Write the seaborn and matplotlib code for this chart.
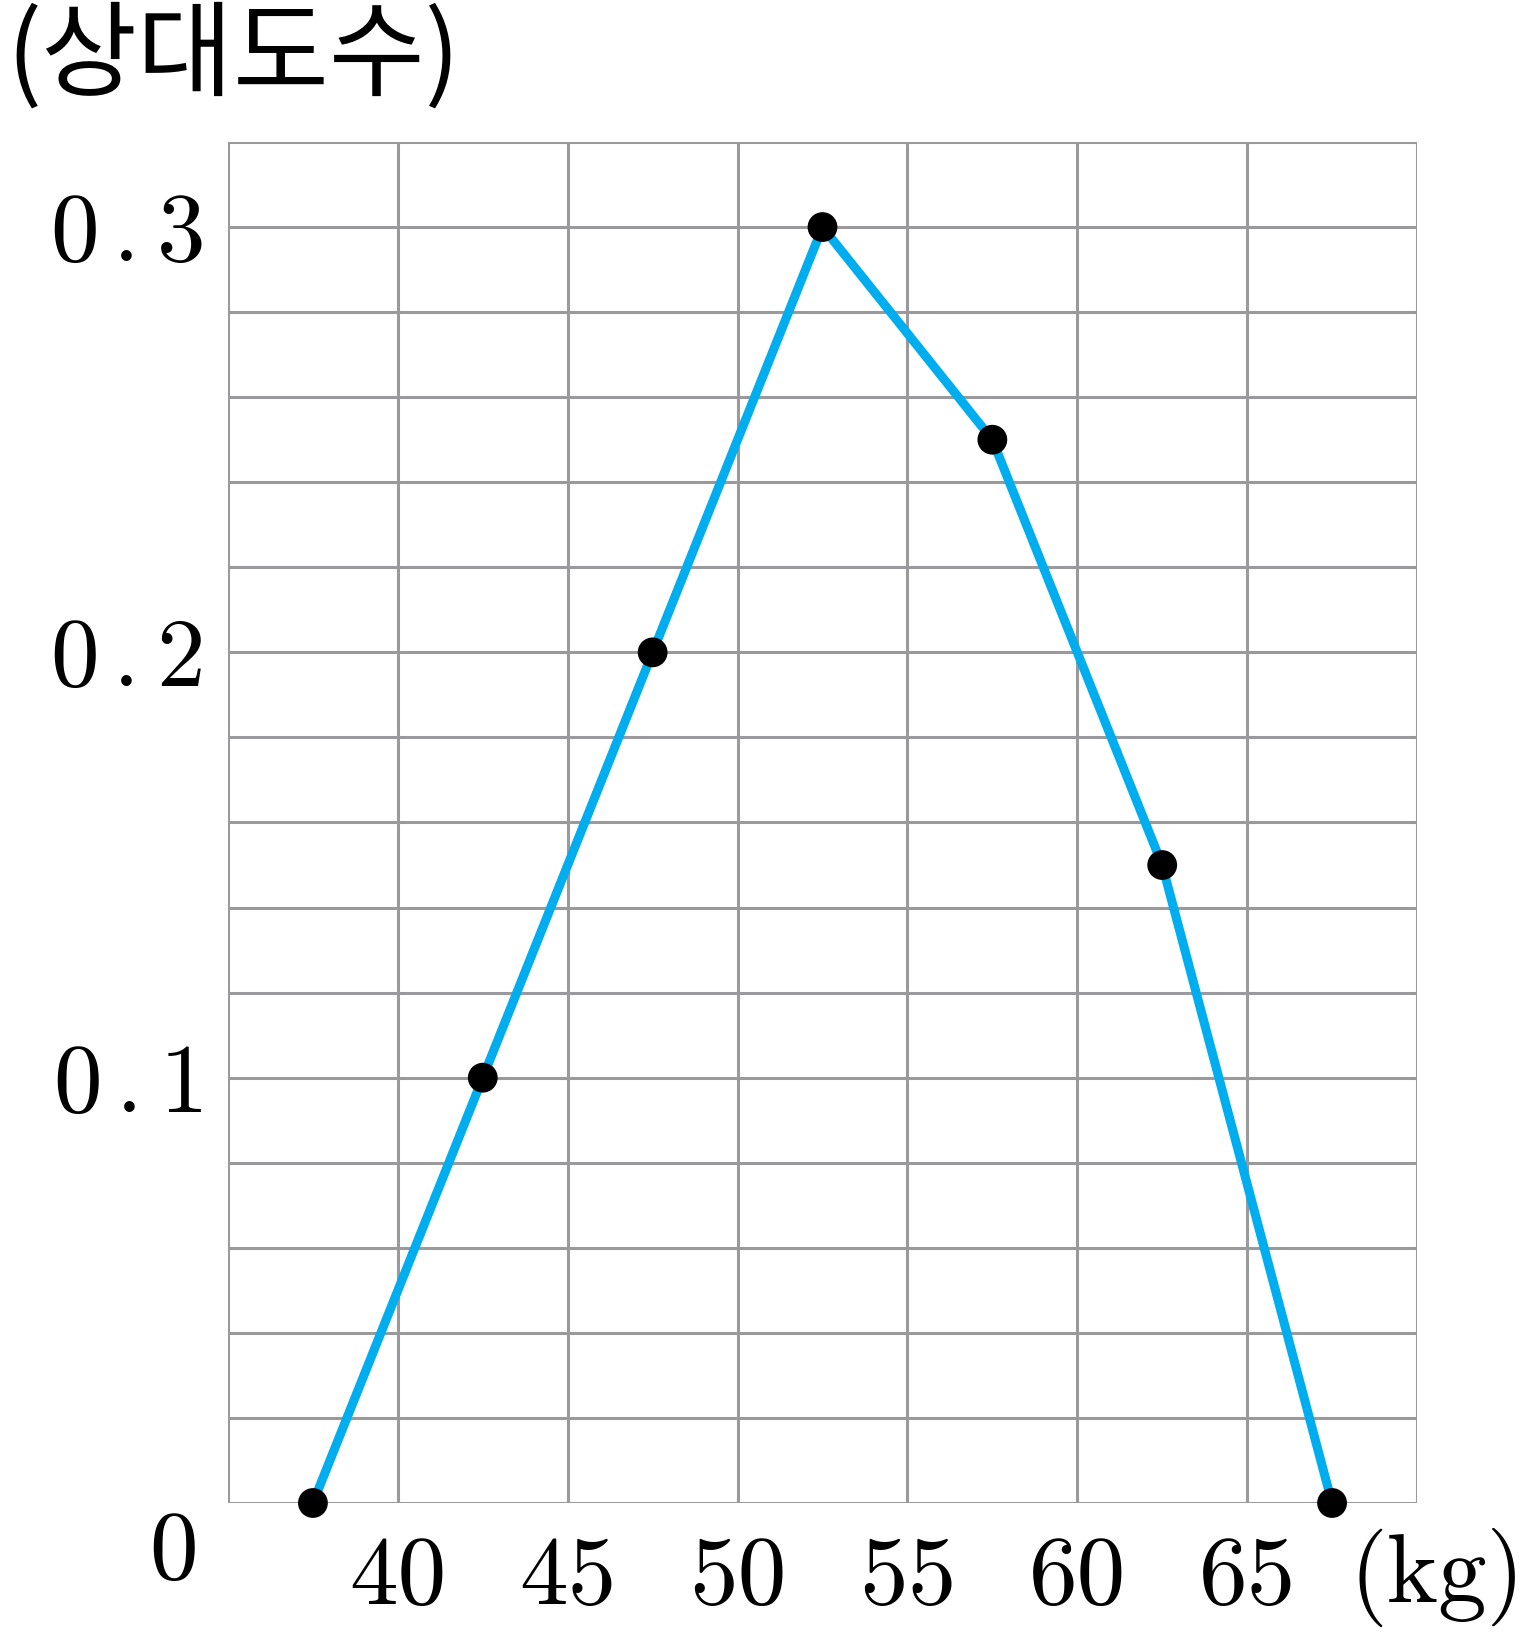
import numpy as np
import pandas as pd
import seaborn as sns
import matplotlib.pyplot as plt

# data: class midpoints (kg) and relative frequency
weight = [37.5, 42.5, 47.5, 52.5, 57.5, 62.5, 67.5]
rel_freq = [0.0, 0.1, 0.2, 0.3, 0.25, 0.15, 0.0]
x_ticks = [40, 45, 50, 55, 60, 65]
y_ticks = [0.1, 0.2, 0.3]
y_labels = [r"$0\,.1$", r"$0\,.2$", r"$0\,.3$"]

df = pd.DataFrame({"weight": weight, "rel": rel_freq})

sns.set_style("white")
plt.rcParams['font.family'] = ['cmr10', 'DejaVu Sans']
plt.rcParams['mathtext.fontset'] = 'cm'
plt.rcParams['axes.unicode_minus'] = False
plt.rcParams['text.color'] = 'black'
plt.rcParams['xtick.color'] = 'black'
plt.rcParams['ytick.color'] = 'black'

W, H = 1529, 1638
fig = plt.figure(figsize=(W / 100, H / 100), dpi=100)
ax = fig.add_axes([228 / W, 1 - 1503 / H, (1417 - 228) / W, (1503 - 142) / H])

grid_c = "#9a9a9c"
for xv in np.arange(35, 71, 5):
    ax.axvline(xv, color=grid_c, lw=2.2, zorder=1)
for yv in np.arange(0, 0.321, 0.02):
    ax.axhline(yv, color=grid_c, lw=2.2, zorder=1)

sns.lineplot(data=df, x="weight", y="rel", color="#00aeef", lw=6.5, ax=ax, zorder=3)
sns.scatterplot(data=df, x="weight", y="rel", color="black", s=460, edgecolor="none",
                ax=ax, zorder=4, clip_on=False)

ax.set_xlim(35, 70)
ax.set_ylim(0, 0.32)
for s in ax.spines.values():
    s.set_visible(False)

ax.set_xticks(x_ticks)
ax.set_xticklabels([str(v) for v in x_ticks], fontsize=70)
ax.set_yticks(y_ticks)
ax.set_yticklabels(y_labels, fontsize=70)
ax.tick_params(axis='x', length=0, pad=24)
ax.tick_params(axis='y', length=0, pad=18)
ax.set_xlabel("")
ax.set_ylabel("")

# origin label and units
ax.text(-0.025, -0.006, "0", transform=ax.transAxes, fontsize=70, ha="right", va="top")
fig.text(1525 / W, 1 - 1528 / H, "(kg)", fontsize=70, ha="right", va="top")
fig.text(6 / W, 1 - 58 / H, "(상대도수)", fontsize=75, ha="left", va="center",
         family=['Noto Sans CJK KR', 'DejaVu Sans'])

fig.savefig("out.png", dpi=100)
